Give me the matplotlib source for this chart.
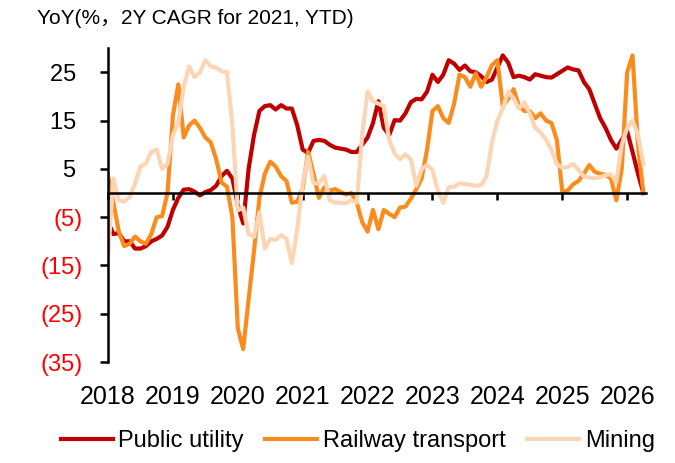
import matplotlib
matplotlib.use("Agg")
import matplotlib.pyplot as plt
import numpy as np
import pandas as pd

# monthly data, Jan 2018 - Apr 2026
months = pd.date_range("2018-01-01", periods=100, freq="MS")

public_utility = [
    -6, -8.5, -8.3, -10, -10, -11.5, -11.5, -11, -10, -9.5, -8.8, -7,
    -3.5, -1, 0.7, 0.8, 0.3, -0.5, 0.2, 0.6, 1.5, 3.5, 4.6, 3,
    -2.5, -6.3, 5, 12, 17, 18, 18.2, 17.3, 18.2, 17.5, 17.5, 14,
    9, 8.3, 10.8, 11, 10.8, 10, 9.4, 9.2, 9, 8.5, 8.5, 10,
    11.5, 14.5, 19, 13.5, 12, 15.1, 15, 16.5, 18.8, 19.5, 19.4, 21,
    24.5, 23, 24.5, 27.5, 26.8, 25.5, 26.4, 25.2, 25, 24.2, 23, 23.5,
    26, 28.5, 27, 24, 24.3, 24, 23.5, 24.6, 24.3, 24, 23.9, 24.6,
    25.3, 26, 25.6, 25.4, 23, 21.5, 18.5, 15.5, 13.5, 11, 9.2, 11,
    12.8, 8.5, 4, 0,
]

railway = [
    3.5, -2, -8, -11, -10.5, -9, -10, -10.5, -8.5, -5, -4.8, 0,
    16, 22.5, 11.5, 14, 15, 13.5, 11.5, 10.5, 7, 2.2, 1.3, -5,
    -28, -32.3, -22, -12, -1, 4, 6.5, 5.5, 3.5, 2.5, -2, -1.8,
    1, 8.5, 4, -1, 1.2, 0.5, 0.8, 0.2, -0.3, 0, -2, -6,
    -8, -3.5, -7.5, -3.5, -4.3, -5, -3, -2.8, -1.2, 0.8, 3, 9,
    17, 18, 15.5, 14.5, 18.5, 24.5, 24, 22, 24.8, 22, 24, 26.5,
    27.5, 18, 19.5, 21.5, 18, 17, 17, 15.5, 16.5, 15, 14.5, 11,
    0.3, 0.5, 1.8, 2.5, 4, 5.8, 4.4, 4, 3.8, 3, -1.5, 5,
    25, 28.5, 10, 0,
]

mining = [
    -13, 3, -1.5, -1.8, -0.8, 2, 5.5, 6.1, 8.5, 9, 5, 6,
    12, 14.6, 22, 26.2, 24, 25, 27.5, 26.2, 26, 25.2, 25, 14,
    -3.6, -3, -8.5, -9.1, -4, -11.5, -9.5, -9.7, -8.7, -9.5, -14.5, -7.5,
    2, 7.5, 2, 2, 3.5, -1.5, -2, -2, -2.1, -1.5, -2, 12,
    21, 19, 18.5, 18, 11, 8.2, 7, 8, 7, 1.5, 5, 5.8,
    4.8, 0.5, -2, 1.2, 1.3, 2, 1.9, 1.7, 1.5, 1.6, 3.5, 10.5,
    15, 17.5, 21, 19.6, 17.5, 18.8, 16.5, 13.5, 12.5, 11, 9, 6,
    5.2, 5.4, 6, 4.8, 3.4, 3.2, 3.1, 3.3, 3.7, 3.9, 2.3, 10,
    13.5, 15, 12, 6,
]

year_ticks = list(range(2018, 2027))
y_ticks = [25, 15, 5, -5, -15, -25, -35]

plt.rcParams["font.family"] = ["Liberation Sans", "DejaVu Sans"]

x = months.year + (months.month - 1) / 12

fig = plt.figure(figsize=(6.75, 4.63), dpi=100)
ax = fig.add_axes([0.16, 0.218, 0.797, 0.678])

ax.plot(x, public_utility, color="#C00000", lw=3, label="Public utility")
ax.plot(x, railway, color="#FA8C1E", lw=3, label="Railway transport")
ax.plot(x, mining, color="#FCD5B5", lw=3, label="Mining")

ax.set_ylim(-35, 30)
ax.set_xlim(2018, x[-1] + 0.04)

ax.spines["top"].set_visible(False)
ax.spines["right"].set_visible(False)
ax.spines["bottom"].set_position(("data", 0))
ax.spines["left"].set_linewidth(1.8)
ax.spines["bottom"].set_linewidth(1.8)

ax.set_yticks(y_ticks)
ylabels = [f"{v} " if v > 0 else f"({-v})" for v in y_ticks]
ax.set_yticklabels(ylabels, fontsize=17)
for lab, v in zip(ax.get_yticklabels(), y_ticks):
    lab.set_color("black" if v > 0 else "red")
ax.tick_params(axis="y", direction="out", length=6, width=1.8, pad=12)

ax.set_xticks(year_ticks)
ax.set_xticklabels([str(y) for y in year_ticks], fontsize=18)
ax.tick_params(axis="x", direction="out", length=5, width=1.8, pad=133)

fig.text(0.055, 0.959, "YoY(%，2Y CAGR for 2021, YTD)", fontsize=15,
         va="center", ha="left", family=["Liberation Sans", "Noto Sans CJK SC"])

fig.legend(loc="center", bbox_to_anchor=(0.53, 0.047), ncol=3, frameon=False,
           fontsize=17, handlelength=2.2, handletextpad=0.25, columnspacing=0.9)

fig.savefig("out.png", dpi=100)
